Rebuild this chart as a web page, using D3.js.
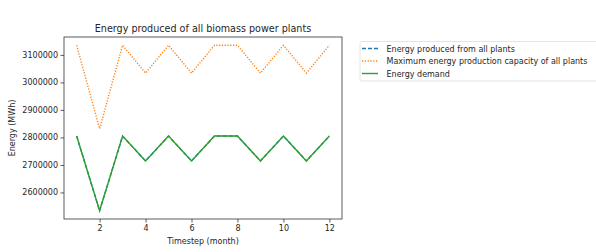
<!DOCTYPE html>
<html><head><meta charset="utf-8">
<script src="https://cdn.jsdelivr.net/npm/d3@7"></script>
<style>body{margin:0;background:#fff}svg{display:block}text{font-family:"DejaVu Sans",sans-serif;fill:#262626}</style>
</head><body><svg id="c" width="596" height="252"></svg>
<script>
const months = [1,2,3,4,5,6,7,8,9,10,11,12];
const produced = [2805000,2533500,2805000,2714500,2805000,2714500,2805000,2805000,2714500,2805000,2714500,2805000];
const capacity = [3135000,2831600,3135000,3033900,3135000,3033900,3135000,3135000,3033900,3135000,3033900,3135000];
const demand = [2805000,2533500,2805000,2714500,2805000,2714500,2805000,2805000,2714500,2805000,2714500,2805000];
const xTicks = [2,4,6,8,10,12];
const yTicks = [2600000,2700000,2800000,2900000,3000000,3100000];
const seriesNames = ["Energy produced from all plants","Maximum energy production capacity of all plants","Energy demand"];

const svg = d3.select("#c");
const L=64,R=342,T=37,B=219;
const x = d3.scaleLinear().domain([0.45,12.55]).range([L,R]);
const all = produced.concat(capacity, demand);
const lo = d3.min(all), hi = d3.max(all), pad=(hi-lo)*0.05;
const y = d3.scaleLinear().domain([lo-pad,hi+pad]).range([B,T]);

const series = [
  {v:produced, color:"#1f77b4", dash:"4,2"},
  {v:capacity, color:"#ff7f0e", dash:"1.2,1.6"},
  {v:demand, color:"#2ca02c", dash:null}
];
const line = d3.line().x((d,i)=>x(months[i])).y(d=>y(d));
series.forEach(s=>{
  svg.append("path").attr("d",line(s.v)).attr("fill","none")
    .attr("stroke",s.color).attr("stroke-width",1.4)
    .attr("stroke-dasharray",s.dash);
});

const xa = svg.append("g").attr("transform",`translate(0,${B})`)
  .call(d3.axisBottom(x).tickValues(xTicks).tickSize(3.5).tickPadding(2.5));
const ya = svg.append("g").attr("transform",`translate(${L},0)`)
  .call(d3.axisLeft(y).tickValues(yTicks).tickSize(3.5).tickPadding(2.5).tickFormat(d3.format("d")));
[xa,ya].forEach(a=>{a.select(".domain").remove();a.selectAll("text").attr("font-size",8).attr("fill","#262626");a.selectAll("line").attr("stroke","#333").attr("stroke-width",0.8);});
svg.append("rect").attr("x",L).attr("y",T).attr("width",R-L).attr("height",B-T)
  .attr("fill","none").attr("stroke","#333").attr("stroke-width",0.8);

svg.append("text").attr("x",(L+R)/2).attr("y",T-5).attr("text-anchor","middle").attr("font-size",9.6).text("Energy produced of all biomass power plants");
svg.append("text").attr("x",(L+R)/2).attr("y",244).attr("text-anchor","middle").attr("font-size",8).text("Timestep (month)");
svg.append("text").attr("transform",`translate(14.5,${(T+B)/2}) rotate(-90)`).attr("text-anchor","middle").attr("font-size",8).text("Energy (MWh)");

const lg = svg.append("g");
lg.append("rect").attr("x",360).attr("y",41.5).attr("width",240).attr("height",39.5).attr("rx",2)
  .attr("fill","#fff").attr("stroke","#ddd").attr("stroke-width",0.8);
seriesNames.forEach((n,i)=>{
  const yy = 48.5 + i*12.5;
  lg.append("line").attr("x1",362).attr("x2",378).attr("y1",yy).attr("y2",yy)
    .attr("stroke",series[i].color).attr("stroke-width",1.4).attr("stroke-dasharray",series[i].dash);
  lg.append("text").attr("x",386.5).attr("y",yy+3).attr("font-size",8).text(n);
});
</script></body></html>
